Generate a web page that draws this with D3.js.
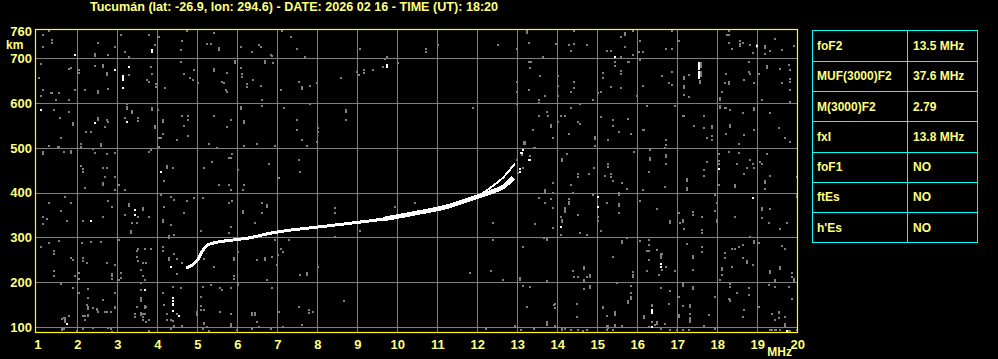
<!DOCTYPE html>
<html>
<head>
<meta charset="utf-8">
<script src="https://cdn.jsdelivr.net/npm/d3@7"></script>
<style>
  html, body { margin: 0; background: #000; overflow: hidden; }
  svg { display: block; }
</style>
</head>
<body>
<svg id="chart" width="998" height="359"></svg>
<script>
// Ionogram, Tucumán 2026-02-16 18:20 UT — virtual height vs frequency.

const title = 'Tucumán (lat: -26.9, lon: 294.6) - DATE: 2026 02 16 - TIME (UT): 18:20';

const freqTicks   = d3.range(1, 21);                    // MHz
const heightTicks = [100, 200, 300, 400, 500, 600, 700]; // km

// Main F-layer trace.
const traceFreq = [4.72, 4.88, 5.03, 5.13, 5.23, 5.38, 5.60, 5.97, 6.30, 6.80, 7.30,
                   8.00, 8.85, 9.65, 10.50, 11.30, 11.80, 12.30, 12.65, 12.90];
const traceKm   = [231, 239, 253, 270, 281, 287, 291, 295, 299, 309, 316,
                   323, 332, 341, 355, 370, 385, 400, 413, 433];

// Split (extraordinary) branch near the critical frequency.
const branchFreq = [12.10, 12.42, 12.65, 12.86, 12.94];
const branchKm   = [397, 417, 434, 456, 465];

// Scaled parameters table.
const paramNames  = ['foF2', 'MUF(3000)F2', 'M(3000)F2', 'fxI', 'foF1', 'ftEs', "h'Es"];
const paramValues = ['13.5 MHz', '37.6 MHz', '2.79', '13.8 MHz', 'NO', 'NO', 'NO'];

// Strong isolated echoes [MHz, km].
const whiteEchoes = [
  [1.93,707],[3.88,714],[3.88,719],[2.93,674],[3.13,656],[3.13,661],[3.13,651],[3.13,633],[3.28,680],
  [1.08,585],[2.43,555],[3.23,558],[4.10,447],[9.73,680],[9.73,685],[13.28,474],[13.08,488],
  [15.43,704],[17.55,655],[17.55,660],[17.55,665],[17.55,670],[17.55,675],[17.55,680],[17.55,685],
  [17.55,690],[18.98,727],[18.03,452],[2.33,337],[3.43,361],[3.43,351],[4.33,235],[3.68,183],
  [4.38,164],[4.38,151],[4.38,135],[4.53,125],[1.73,107],[14.08,324],[15.03,391],[15.03,369],
  [16.58,235],[16.58,240],[18.88,387],[19.73,92],[16.38,134],[16.38,139],[16.38,99],
  [4.38,157],[4.38,149],[16.38,132],[19.73,90],[13.32,473],[13.07,447],[13.07,452],[13.11,488],[13.15,495]
];

// Weak background echoes [MHz, km].
const grayEchoes = [
  [1.28,761],[1.13,753],[1.38,735],[1.38,740],[1.13,726],[2.43,705],[2.43,710],[2.78,708],[2.53,735],
  [2.93,726],[3.10,752],[3.20,713],[3.28,704],[3.80,752],[4.03,748],[3.93,730],[4.75,761],[4.63,739],
  [4.60,718],[5.23,733],[5.33,733],[5.43,757],[5.53,718],[5.53,723],[6.08,726],[6.38,713],[6.53,730],
  [6.60,726],[6.85,707],[6.90,689],[7.12,762],[1.08,687],[1.80,675],[1.85,678],[2.03,668],[2.03,673],
  [2.45,683],[2.63,681],[2.63,686],[2.73,663],[2.73,668],[3.28,663],[3.85,681],[3.88,666],[3.75,652],
  [3.80,648],[3.97,637],[3.97,642],[4.20,633],[4.58,692],[4.68,666],[4.83,655],[4.88,651],[4.93,674],
  [5.03,644],[5.43,672],[5.43,677],[5.73,668],[5.63,648],[5.68,644],[5.72,629],[5.75,625],[5.95,690],
  [5.95,695],[6.10,678],[6.12,659],[6.12,664],[6.23,637],[6.23,642],[6.40,652],[6.68,690],[6.68,695],
  [6.58,638],[6.88,705],[7.08,629],[1.03,655],[1.13,629],[1.33,623],[1.38,623],[1.53,622],[1.47,607],
  [1.10,616],[1.78,608],[1.95,629],[2.20,629],[2.53,623],[2.53,628],[2.77,631],[1.42,585],[1.57,567],
  [1.78,580],[1.88,551],[1.88,556],[2.53,562],[2.53,567],[2.22,536],[2.33,536],[2.68,546],[2.73,562],
  [2.78,558],[3.23,587],[3.23,592],[3.23,597],[3.38,577],[3.38,582],[3.20,567],[3.53,561],[3.53,566],
  [3.88,585],[3.88,590],[4.02,585],[4.15,558],[4.15,563],[3.93,544],[3.93,549],[4.03,521],[4.08,521],
  [4.13,531],[4.48,518],[4.63,571],[4.77,571],[4.77,562],[4.68,549],[4.77,526],[5.43,571],[5.85,562],
  [5.73,547],[6.08,587],[6.08,592],[6.18,556],[6.18,561],[6.63,607],[6.63,593],[7.18,589],[1.58,521],
  [1.30,504],[1.52,503],[1.55,503],[2.08,503],[2.08,508],[2.58,504],[2.58,509],[2.40,498],[1.13,486],
  [1.13,491],[1.67,491],[1.83,489],[1.83,494],[2.43,488],[2.73,486],[2.93,489],[3.78,491],[3.83,495],
  [4.05,501],[2.08,459],[2.13,447],[2.13,452],[2.63,454],[2.73,456],[2.93,436],[2.68,436],[4.23,454],
  [4.23,459],[4.38,456],[5.18,456],[5.38,468],[5.28,509],[5.48,499],[5.78,478],[5.83,478],[5.88,486],
  [6.03,451],[6.18,504],[6.48,509],[6.78,464],[6.93,504],[7.03,432],
  [7.35,748],[7.48,721],[7.68,704],[9.08,721],[9.73,704],[9.68,698],[9.65,680],[10.03,689],[9.38,674],
  [9.18,668],[9.18,673],[8.98,670],[9.03,662],[8.58,656],[7.53,648],[7.63,632],[7.63,637],[7.83,638],
  [7.98,644],[10.73,715],[10.73,720],[11.03,730],[12.53,730],[12.98,721],[13.25,756],[13.25,761],
  [13.28,735],[13.30,692],[13.35,692],[13.33,678],[13.58,660],[13.28,629],[12.98,648],[12.98,625],
  [13.63,704],[13.53,601],[13.53,606],[12.98,598],[11.88,589],[7.83,598],[8.73,579],[8.73,584],
  [8.73,562],[7.48,562],[7.48,540],[8.03,544],[8.03,536],[7.63,517],[7.73,504],[7.98,514],[7.53,473],
  [7.58,446],[13.53,571],[13.38,540],[13.18,509],[13.18,514],[13.13,495],[13.43,500],[13.33,482],
  [12.98,473],[13.13,455],[13.03,443],
  [14.43,761],[13.98,733],[14.28,730],[14.43,733],[14.73,730],[14.33,717],[15.23,717],[15.33,717],
  [15.43,692],[15.43,683],[15.68,752],[15.68,757],[15.60,748],[15.68,726],[15.88,761],[16.08,739],
  [16.05,715],[16.13,713],[16.08,696],[15.88,707],[15.80,692],[15.60,704],[16.73,721],[16.88,721],
  [16.88,761],[17.03,739],[18.28,761],[18.25,752],[18.30,752],[18.30,735],[18.37,721],[18.58,733],
  [18.58,738],[18.58,728],[18.63,735],[18.83,730],[18.88,711],[19.00,730],[19.00,725],[19.20,727],
  [19.20,722],[19.18,710],[19.43,744],[19.63,719],[19.93,727],[19.33,717],[17.60,690],[17.60,685],
  [17.60,680],[17.60,670],[17.60,665],[17.60,660],[17.58,644],[17.58,649],[17.28,663],[17.18,653],
  [17.18,658],[17.18,633],[17.18,638],[17.28,614],[17.18,618],[16.88,670],[16.63,660],[16.78,644],
  [16.88,640],[16.13,638],[15.58,666],[15.58,671],[15.58,633],[15.13,668],[15.13,655],[15.33,637],
  [15.08,625],[15.03,622],[15.78,692],[15.98,616],[14.03,660],[14.03,638],[14.43,648],[14.43,633],
  [14.33,625],[14.03,616],[13.68,616],[14.88,607],[14.58,598],[14.33,589],[14.08,571],[14.18,571],
  [13.73,581],[13.78,571],[13.83,547],[13.83,552],[14.03,558],[14.53,558],[14.58,553],[14.28,531],
  [13.88,522],[14.93,519],[14.93,524],[14.93,504],[15.08,568],[15.38,562],[15.38,549],[15.53,536],
  [15.28,518],[15.78,564],[15.83,531],[16.13,540],[16.18,541],[16.23,593],[16.93,593],[16.73,518],
  [16.73,506],[16.68,499],[17.13,571],[17.18,571],[17.68,571],[17.43,549],[17.88,544],[17.88,549],
  [17.68,544],[17.88,527],[17.88,518],[17.73,521],[18.08,588],[18.08,593],[18.18,589],[18.23,589],
  [18.33,585],[18.08,607],[18.08,612],[18.13,625],[18.18,644],[18.28,643],[18.28,648],[18.23,666],
  [18.78,692],[18.78,670],[18.83,666],[18.68,652],[18.92,644],[19.03,666],[19.23,678],[19.23,683],
  [19.58,675],[19.78,685],[19.83,674],[19.63,644],[19.82,648],[19.82,653],[19.83,629],[19.83,603],
  [19.13,607],[18.93,585],[18.93,590],[18.63,577],[19.33,577],[18.33,547],[18.33,552],[18.23,531],
  [18.68,529],[18.93,541],[19.53,544],[19.68,522],[19.83,514],[18.53,509],[18.28,491],[18.53,488],
  [18.03,486],[18.03,465],[18.03,470],[18.48,464],[18.68,442],[18.73,456],[18.93,456],[18.83,473],
  [18.88,465],[19.08,469],[19.13,465],[19.23,486],[19.33,437],[19.98,434],[14.13,471],[14.13,476],
  [14.23,486],[14.53,442],[14.53,434],[14.78,442],[14.92,456],[15.28,458],[15.28,463],[15.18,437],
  [15.33,436],[15.33,441],[15.93,491],[16.33,495],[16.33,473],[16.33,478],[16.73,480],[16.73,485],
  [16.73,465],[16.28,447],[17.73,469],[17.68,451],[17.68,437],[17.23,431],
  [2.63,417],[2.63,422],[3.03,417],[2.18,410],[2.93,405],[3.18,405],[4.18,426],[4.08,395],[4.33,391],
  [4.43,384],[4.18,369],[4.73,382],[4.93,387],[5.53,417],[5.78,417],[5.83,407],[6.18,417],[6.13,405],
  [5.13,387],[5.78,378],[5.88,382],[6.63,378],[6.73,367],[6.73,372],[6.13,354],[6.13,359],[6.43,333],
  [6.63,354],[1.68,391],[1.83,378],[1.28,378],[1.58,360],[1.13,346],[1.23,342],[1.13,329],[1.73,337],
  [2.13,337],[2.63,346],[2.88,369],[2.78,382],[3.28,370],[3.28,375],[3.63,361],[3.63,366],[3.20,351],
  [3.53,346],[3.78,346],[3.38,333],[3.48,333],[3.33,309],[3.33,314],[4.13,335],[4.13,340],[4.33,327],
  [4.43,306],[4.28,298],[4.28,303],[4.68,355],[5.08,315],[5.83,324],[5.78,309],[5.88,291],[1.53,293],
  [1.28,288],[1.08,279],[2.12,288],[2.33,290],[2.58,290],[3.03,294],[1.43,270],[1.43,263],[1.83,253],
  [1.88,250],[2.13,248],[2.13,253],[2.23,242],[2.73,244],[2.93,239],[2.88,213],[2.88,218],[2.88,208],
  [1.43,226],[1.43,213],[2.03,220],[2.03,207],[1.93,213],[3.48,270],[3.53,275],[3.48,257],[3.53,248],
  [3.68,275],[3.83,275],[3.63,242],[3.73,242],[3.58,227],[3.63,213],[3.08,221],[3.08,209],[3.68,206],
  [4.13,279],[4.13,270],[4.28,250],[4.28,255],[4.48,251],[4.48,218],[4.63,242],[4.43,262],[5.93,250],
  [5.93,255],[5.93,208],[5.93,213],[6.03,268],[6.03,195],[6.48,250],[6.68,250],[6.68,255],[6.98,239],
  [6.93,294],[7.13,268],[7.08,275],[5.43,233],[5.18,251],[1.58,196],[1.88,186],[2.03,175],[2.28,184],
  [2.28,164],[2.23,149],[2.38,142],[2.48,139],[2.18,125],[2.28,125],[2.53,134],[2.73,134],[2.63,160],
  [2.93,142],[2.93,175],[3.03,205],[3.58,183],[3.58,198],[3.58,160],[3.58,165],[3.68,142],[3.68,147],
  [3.43,123],[3.43,128],[3.63,123],[3.63,128],[3.78,116],[4.38,190],[4.58,186],[4.13,175],[4.18,149],
  [4.33,116],[4.63,102],[1.68,116],[1.68,121],[1.63,95],[5.13,190],[5.08,168],[5.33,194],[5.58,186],
  [5.63,183],[5.83,186],[6.03,194],[5.08,138],[5.18,139],[4.98,128],[4.98,133],[5.18,108],[5.23,101],
  [5.83,102],[6.38,127],[6.38,132],[6.43,131],[6.53,101],[6.88,186],[7.03,134],[7.13,101],[6.73,205],
  [13.88,422],[14.33,417],[13.68,400],[13.68,405],[13.88,400],[13.83,385],[13.88,365],[14.28,380],
  [14.28,385],[14.28,375],[14.38,400],[14.18,361],[14.18,366],[14.18,356],[14.08,346],[14.13,335],
  [14.13,340],[14.08,306],[13.88,320],[14.53,351],[14.58,311],[14.73,306],[14.88,395],[15.23,378],
  [15.03,346],[15.03,336],[15.08,315],[15.53,395],[15.53,400],[15.53,370],[15.53,375],[15.53,355],
  [15.38,426],[15.63,422],[15.73,409],[16.08,382],[16.13,407],[16.68,413],[16.48,364],[16.83,332],
  [16.83,337],[17.08,332],[17.13,335],[17.13,340],[17.03,355],[17.38,351],[17.38,356],[17.63,346],
  [17.63,311],[17.63,316],[17.18,318],[17.23,406],[17.23,411],[17.23,426],[17.93,395],[17.98,378],
  [17.93,360],[17.98,335],[17.98,340],[18.03,417],[18.43,413],[18.43,418],[18.43,346],[19.13,361],
  [19.13,366],[19.33,364],[19.13,343],[19.28,333],[19.58,318],[19.73,333],[19.18,421],[19.18,426],
  [19.18,409],[19.98,391],[19.98,396],[18.83,302],[13.73,294],[13.73,299],[15.63,288],[15.63,293],
  [15.73,299],[16.08,293],[16.28,294],[16.28,283],[16.23,270],[16.28,270],[16.48,273],[16.58,253],
  [16.58,258],[16.58,263],[16.63,263],[16.63,227],[16.28,250],[16.23,226],[16.53,217],[16.73,233],
  [16.93,226],[15.38,257],[14.68,230],[14.68,235],[14.38,226],[14.43,211],[14.53,212],[14.73,211],
  [14.83,212],[14.83,217],[14.68,205],[14.68,200],[14.83,186],[14.83,191],[14.68,184],[13.73,203],
  [15.88,212],[15.88,217],[15.88,222],[15.83,192],[15.83,175],[15.83,162],[15.83,167],[15.78,154],
  [15.48,199],[17.23,285],[17.38,253],[17.38,258],[17.38,227],[17.63,279],[17.63,268],[17.13,192],
  [17.13,197],[17.38,184],[17.38,189],[17.93,168],[17.03,166],[16.83,181],[16.58,186],[18.18,266],
  [18.18,253],[18.38,275],[18.43,275],[18.53,279],[18.63,282],[18.73,242],[18.73,247],[18.63,253],
  [18.38,235],[18.88,239],[18.93,287],[18.93,292],[19.03,288],[18.13,227],[18.13,232],[18.08,205],
  [18.13,217],[18.33,190],[18.33,195],[18.48,177],[18.78,186],[18.78,171],[19.28,194],[19.43,201],
  [19.43,206],[19.43,190],[19.63,281],[19.68,275],[19.33,220],[19.33,225],[19.58,229],[19.58,234],
  [19.88,221],[19.88,212],[19.93,203],[19.93,208],[19.78,190],[19.88,162],[18.28,163],[18.33,160],
  [19.03,144],[18.68,138],[18.63,123],[19.38,129],[19.53,134],[19.68,122],[19.43,116],[19.68,102],
  [19.68,107],[19.78,92],[19.83,92],[19.38,93],[19.48,93],[19.58,93],[13.93,151],[13.93,142],
  [14.48,151],[14.48,122],[13.73,107],[13.73,112],[13.93,101],[14.13,95],[14.18,95],[14.75,93],
  [15.13,143],[15.23,125],[15.43,127],[15.43,132],[15.63,102],[15.23,102],[15.28,97],[15.43,99],
  [15.43,104],[16.18,119],[16.18,124],[16.38,147],[16.48,107],[16.48,112],[16.28,101],[16.68,107],
  [16.58,96],[16.78,151],[17.03,123],[17.13,147],[17.33,145],[17.33,150],[17.33,116],[17.33,121],
  [17.28,93],[17.68,102],[17.78,127],[17.93,95],
  [1.62,117],[1.67,119],[1.70,112],[1.70,117],[1.78,125],[1.62,93],[1.67,95],[2.23,149],[2.28,140],
  [2.28,145],[2.13,125],[2.28,127],[2.18,116],[2.48,140],[2.68,134],[2.83,134],[2.93,144],[1.98,90],
  [2.13,95],[2.38,98],[2.83,95],[2.88,89],[2.78,98],[3.58,157],[3.48,144],[3.73,144],[3.43,123],
  [3.58,127],[3.58,132],[3.68,130],[3.63,116],[3.73,112],[3.78,90],[4.23,129],[4.48,130],[4.23,116],
  [4.38,114],[4.43,102],[4.33,95],[4.98,127],[5.08,147],[5.18,139],[5.18,107],[5.13,95],[5.28,90],
  [5.58,133],[5.83,129],[5.83,107],[5.98,93],[6.43,127],[6.48,112],[6.38,95],[6.83,95],[7.03,133],
  [7.53,144],[7.78,132],[7.78,137],[7.88,133],[7.63,104],[8.68,157],[12.23,95],[12.93,102],[13.08,93],
  [13.23,144],[13.43,95],[13.73,104],[13.92,149],[13.93,102],[14.13,93],[14.48,123],[14.33,93],
  [14.53,93],[14.63,90],[15.13,144],[15.43,134],[15.78,157],[15.28,102],[15.23,93],[15.38,93],
  [16.38,149],[16.38,112],[16.43,104],[16.78,151],[17.03,127],[17.33,130],[17.33,112],[16.83,93],
  [16.98,93],[17.13,93],[18.32,158],[18.68,139],[19.38,130],[19.53,132],[19.53,119],[19.68,101],
  [19.33,93],[19.43,93],[19.98,93],
  [8.44,365],[8.44,354],[9.94,369],[10.44,378],[9.08,315],[8.44,302],[12.40,333],[12.40,294],
  [11.82,221],[12.33,226],[12.63,205],[13.07,205],[13.07,210],[13.32,190],[13.15,192],[8.03,235],
  [7.73,216],[7.73,221],[7.58,216],[13.44,331],[13.53,387],[13.69,399],[13.69,404],[13.69,376],
  [13.11,484],[13.19,509],[13.19,514],[13.44,499],[13.67,298],[13.73,294],[13.15,279],[7.28,294],
  [7.02,261],[6.88,256]
];

const W = 998, H = 359;
const FONT = '"Liberation Sans", Arial, sans-serif';
const PALE = '#ffff80';

const svg = d3.select('#chart');
svg.append('rect').attr('width', W).attr('height', H).attr('fill', '#000');

const x = d3.scaleLinear().domain([1, 20]).range([37.3, 797.3]);
const y = d3.scaleLinear().domain([86.6, 763.2]).range([333, 30]);
const px = v => Math.round(v) + 0.5;

// Title
svg.append('text')
    .attr('x', 294).attr('y', 11)
    .attr('text-anchor', 'middle')
    .style('font-family', FONT).style('font-size', '12.6px').style('font-weight', '700')
    .style('fill', PALE)
    .text(title);

svg.append('clipPath').attr('id', 'plot-clip')
  .append('rect').attr('x', 36).attr('y', 30).attr('width', 761).attr('height', 303);

const plot = svg.append('g').attr('clip-path', 'url(#plot-clip)');

// Grid
plot.selectAll('line.vgrid')
    .data(freqTicks.filter(f => f > 1 && f < 20))
    .join('line').attr('class', 'vgrid')
    .attr('x1', d => px(x(d))).attr('x2', d => px(x(d)))
    .attr('y1', 30).attr('y2', 333)
    .attr('stroke', '#808080').attr('stroke-width', 1);

plot.selectAll('line.hgrid')
    .data(heightTicks)
    .join('line').attr('class', 'hgrid')
    .attr('x1', 36).attr('x2', 797)
    .attr('y1', d => px(y(d))).attr('y2', d => px(y(d)))
    .attr('stroke', '#808080').attr('stroke-width', 1);

// Background echoes
plot.selectAll('rect.gray')
    .data(grayEchoes)
    .join('rect').attr('class', 'gray')
    .attr('x', d => Math.round(x(d[0])) - 1)
    .attr('y', d => Math.round(y(d[1])) - 1)
    .attr('width', 2).attr('height', 2)
    .attr('fill', '#808080');

// Trace: thin at the bottom, thicker towards the critical frequency.
const line = d3.line()
    .x(d => x(d[0]))
    .y(d => y(d[1]))
    .curve(d3.curveMonotoneX);

const trace  = traceFreq.map((f, i) => [f, traceKm[i]]);
const branch = branchFreq.map((f, i) => [f, branchKm[i]]);

plot.append('path')
    .datum(trace)
    .attr('fill', 'none')
    .attr('stroke', '#fff')
    .attr('stroke-width', 3)
    .attr('shape-rendering', 'crispEdges')
    .attr('d', line);

plot.append('path')
    .datum(trace.filter(d => d[0] >= 9.6))
    .attr('fill', 'none')
    .attr('stroke', '#fff')
    .attr('stroke-width', 4.5)
    .attr('shape-rendering', 'crispEdges')
    .attr('d', line);

plot.append('path')
    .datum(branch)
    .attr('fill', 'none')
    .attr('stroke', '#fff')
    .attr('stroke-width', 2)
    .attr('shape-rendering', 'crispEdges')
    .attr('d', line);

plot.selectAll('rect.white')
    .data(whiteEchoes)
    .join('rect').attr('class', 'white')
    .attr('x', d => Math.round(x(d[0])) - 1)
    .attr('y', d => Math.round(y(d[1])) - 1)
    .attr('width', 2).attr('height', 2)
    .attr('fill', '#fff');

// Frame
svg.append('rect')
    .attr('x', 35.5).attr('y', 29.5)
    .attr('width', 762).attr('height', 303)
    .attr('fill', 'none')
    .attr('stroke', '#ffff00').attr('stroke-width', 1.2);

// Axes
const xAxis = svg.append('g')
    .attr('transform', 'translate(0, 333)')
    .call(d3.axisBottom(x).tickValues(freqTicks).tickFormat(d3.format('d')).tickSize(0).tickPadding(7));
xAxis.select('.domain').remove();
xAxis.selectAll('text')
    .attr('dy', '0.71em')
    .style('font-family', FONT).style('font-size', '13px').style('font-weight', '700')
    .style('fill', PALE);

const yAxis = svg.append('g')
    .attr('transform', 'translate(32, 0)')
    .call(d3.axisLeft(y).tickValues(heightTicks.concat([760])).tickFormat(d3.format('d')).tickSize(0).tickPadding(0));
yAxis.select('.domain').remove();
yAxis.selectAll('text')
    .style('font-family', FONT).style('font-size', '13px').style('font-weight', '700')
    .style('fill', PALE);

svg.append('text')
    .attr('x', 6).attr('y', 48.5)
    .style('font-family', FONT).style('font-size', '12px').style('font-weight', '700')
    .style('fill', PALE)
    .text('km');

svg.append('text')
    .attr('x', 792).attr('y', 356)
    .attr('text-anchor', 'end')
    .style('font-family', FONT).style('font-size', '12px').style('font-weight', '700')
    .style('fill', PALE)
    .text('MHz');

// Parameters table
const rows = d3.scaleBand().domain(paramNames).range([30.5, 242.5]);
const table = svg.append('g');
const TX0 = 812.5, TX1 = 977.5, TXC = 907.5;

table.selectAll('line.row')
    .data(paramNames.slice(1))
    .join('line').attr('class', 'row')
    .attr('x1', TX0).attr('x2', TX1)
    .attr('y1', d => px(rows(d))).attr('y2', d => px(rows(d)))
    .attr('stroke', '#00ffff');
table.append('rect')
    .attr('x', TX0).attr('y', 30.5).attr('width', TX1 - TX0).attr('height', 212)
    .attr('fill', 'none').attr('stroke', '#00ffff');
table.append('line')
    .attr('x1', TXC).attr('x2', TXC).attr('y1', 30.5).attr('y2', 242.5)
    .attr('stroke', '#00ffff');

table.selectAll('text.name')
    .data(paramNames)
    .join('text').attr('class', 'name')
    .attr('x', 817).attr('y', d => rows(d) + rows.bandwidth() / 2)
    .attr('dy', '0.36em')
    .style('font-family', FONT).style('font-size', '12px').style('font-weight', '700')
    .style('fill', PALE)
    .text(d => d);

table.selectAll('text.value')
    .data(paramValues)
    .join('text').attr('class', 'value')
    .attr('x', 913).attr('y', (d, i) => rows(paramNames[i]) + rows.bandwidth() / 2)
    .attr('dy', '0.36em')
    .style('font-family', FONT).style('font-size', '12px').style('font-weight', '700')
    .style('fill', PALE)
    .text(d => d);
</script>
</body>
</html>
